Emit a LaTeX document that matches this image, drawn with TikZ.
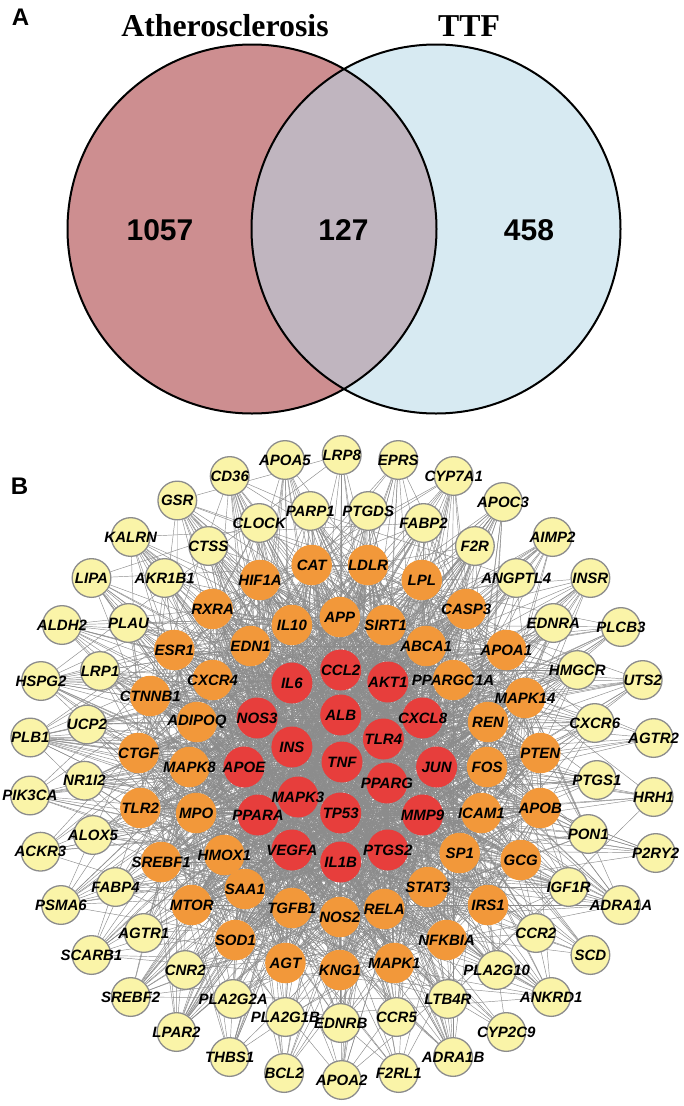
\documentclass[tikz,border=0pt]{standalone}
\usepackage{fontspec}
\newfontfamily\arl{Liberation Sans}
\newfontfamily\tms{Liberation Serif}
\usetikzlibrary{backgrounds}
\definecolor{vleft}{RGB}{205,142,144}
\definecolor{vright}{RGB}{215,234,242}
\definecolor{vmid}{RGB}{192,181,191}
\definecolor{nyel}{RGB}{250,244,168}
\definecolor{nyelb}{RGB}{140,140,140}
\definecolor{nora}{RGB}{242,152,58}
\definecolor{nred}{RGB}{231,62,60}
\definecolor{edgec}{RGB}{140,140,140}
\begin{document}
\def\redlist{340.7/715/ALB, 340.7/670/CCL2, 291.9/683/IL6, 387.8/682/AKT1, 257.1/718/NOS3, 422.6/718/CXCL8, 291.9/747/INS, 383.4/739/TLR4, 244/767/APOE, 342/762/TNF, 436.6/767/JUN, 386.9/783/PPARG, 298/797/MAPK3, 258/815/PPARA, 340.7/813/TP53, 422.6/815/MMP9, 291.9/850/VEGFA, 387.8/850/PTGS2, 340.7/862/IL1B}
\def\oralist{311.7/565/CAT, 368/565/LDLR, 260.1/580/HIF1A, 421.8/580/LPL, 212.6/609/RXRA, 466.2/609/CASP3, 291.9/625/IL10, 339.8/617/APP, 385.6/625/SIRT1, 174.3/650/ESR1, 250.5/646/EDN1, 426.1/646/ABCA1, 506.3/650/APOA1, 212.6/680/CXCR4, 453.1/680/PPARGC1A, 150.3/696/CTNNB1, 525/698/MAPK14, 196.9/722/ADIPOQ, 488/722/REN, 138.6/753/CTGF, 540.3/753/PTEN, 189.5/767/MAPK8, 487.1/767/FOS, 140.3/808/TLR2, 196.1/813/MPO, 481.4/813/ICAM1, 540.3/808/APOB, 161.2/862/SREBF1, 224.4/855/HMOX1, 459.7/853/SP1, 520.7/860/GCG, 244.9/889/SAA1, 427.9/887/STAT3, 191.7/905/MTOR, 488/905/IRS1, 291.9/908/TGFB1, 339.8/917/NOS2, 384.3/909/RELA, 235.3/940/SOD1, 446.6/940/NFKBIA, 285.4/963/AGT, 339.8/970/KNG1, 394.3/963/MAPK1}
\def\yellist{229.7/476/CD36, 285/460/APOA5, 341.7/455/LRP8, 398.3/460/EPRS, 453.7/476/CYP7A1, 177.3/500.5/GSR, 503/502/APOC3, 259.2/523/CLOCK, 310.2/511/PARP1, 368.2/511/PTGDS, 423.5/523/FABP2, 130.7/537/KALRN, 552.5/537/AIMP2, 208.3/546/CTSS, 474.9/546/F2R, 91.5/578/LIPA, 164.7/578/AKR1B1, 516.3/578/ANGPTL4, 590.4/578/INSR, 62/625/ALDH2, 128.5/623/PLAU, 553.3/623/EDNRA, 620.9/627/PLCB3, 41/681/HSPG2, 100/671/LRP1, 577.3/670/HMGCR, 642.7/680/UTS2, 87/724.5/UCP2, 594.7/723/CXCR6, 30.3/737.5/PLB1, 653.6/738/AGTR2, 84.5/780.7/NR1I2, 596.9/780/PTGS1, 30/795.5/PIK3CA, 653.6/797/HRH1, 93/835/ALOX5, 588.2/834/PON1, 40.5/851.7/ACKR3, 655.7/853/P2RY2, 115.5/887/FABP4, 568.6/887/IGF1R, 61/905/PSMA6, 620.9/905/ADRA1A, 143.8/933/AGTR1, 535.9/933/CCR2, 91.5/955/SCARB1, 590.4/955/SCD, 185.2/970/CNR2, 496.7/970/PLA2G10, 130.7/997/SREBF2, 551.2/997/ANKRD1, 233.1/999/PLA2G2A, 447.9/999/LTB4R, 285.4/1017/PLA2G1B, 340.7/1023/EDNRB, 396.5/1017/CCR5, 176.5/1032/LPAR2, 506.3/1032/CYP2C9, 229.6/1057/THBS1, 453.1/1057/ADRA1B, 284.1/1073/BCL2, 341.7/1080/APOA2, 398.7/1073/F2RL1}
\begin{tikzpicture}[x=1pt,y=-1pt,
  yelnode/.style={circle,fill=nyel,draw=nyelb,line width=1.3pt,minimum size=38.7pt,inner sep=0pt},
  oranode/.style={circle,fill=nora,minimum size=40.5pt,inner sep=0pt},
  rednode/.style={circle,fill=nred,minimum size=41pt,inner sep=0pt},
  lab/.style={font=\arl\bfseries\itshape\fontsize{15}{16}\selectfont,inner sep=0pt,text=black},
  lnk/.style={draw=edgec,line width=0.45pt},
  panel/.style={font=\arl\bfseries\fontsize{24}{26}\selectfont,inner sep=0pt},
  vtitle/.style={font=\tms\bfseries\fontsize{31.8}{34}\selectfont,inner sep=0pt,anchor=base},
  vnum/.style={font=\arl\bfseries\fontsize{30}{32}\selectfont,inner sep=0pt}]
\useasboundingbox (0,0) rectangle (683,1106);
% Panel A
\node[panel] (pa) at (20.5,17) {A};
\node[vtitle] (t1) at (225,36.7) {Atherosclerosis};
\node[vtitle] (t2) at (469,36.7) {TTF};
\fill[vleft] (252,229) circle[radius=184.5pt];
\fill[vright] (436,229) circle[radius=184.5pt];
\begin{scope}
\clip (252,229) circle[radius=184.5pt];
\fill[vmid] (436,229) circle[radius=184.5pt];
\end{scope}
\draw[line width=2pt] (252,229) circle[radius=184.5pt] (436,229) circle[radius=184.5pt];
\node[vnum] (n1) at (160,230.5) {1057};
\node[vnum] (n2) at (343.5,230.5) {127};
\node[vnum] (n3) at (529,230.5) {458};
% Panel B
\node[panel] (pb) at (19.6,486) {B};
\foreach \x/\y/\t [count=\i] in \yellist {\node[yelnode] (w\i) at (\x,\y) {};}
\foreach \x/\y/\t [count=\i] in \oralist {\node[oranode] (o\i) at (\x,\y) {};}
\foreach \x/\y/\t [count=\i] in \redlist {\node[rednode] (r\i) at (\x,\y) {};}
\foreach \x/\y/\t [count=\i] in \yellist {\node[lab] at (w\i) {\t};}
\foreach \x/\y/\t [count=\i] in \oralist {\node[lab] at (o\i) {\t};}
\foreach \x/\y/\t [count=\i] in \redlist {\node[lab] at (r\i) {\t};}
\begin{scope}[on background layer]
\fill[white] (0,0) rectangle (683,1106);
\pgfmathsetseed{12}
\foreach \i in {1,...,19}{
  \foreach \j in {1,...,19}{\ifnum\j>\i \draw[lnk] (r\i) -- (r\j);\fi}
  \foreach \j in {1,...,43}{\pgfmathtruncatemacro\ok{rnd<0.9}\ifnum\ok=1 \draw[lnk] (r\i) -- (o\j);\fi}
  \foreach \j in {1,...,63}{\pgfmathtruncatemacro\ok{rnd<0.4}\ifnum\ok=1 \draw[lnk] (r\i) -- (w\j);\fi}
}
\foreach \i in {1,...,43}{
  \foreach \j in {1,...,43}{\ifnum\j>\i \pgfmathtruncatemacro\ok{rnd<0.5}\ifnum\ok=1 \draw[lnk] (o\i) -- (o\j);\fi\fi}
  \foreach \j in {1,...,63}{\pgfmathtruncatemacro\ok{rnd<0.15}\ifnum\ok=1 \draw[lnk] (o\i) -- (w\j);\fi}
}
\foreach \i in {1,...,63}{
  \foreach \j in {1,...,63}{\ifnum\j>\i \pgfmathtruncatemacro\ok{rnd<0.012}\ifnum\ok=1 \draw[lnk] (w\i) -- (w\j);\fi\fi}
}
\end{scope}
\end{tikzpicture}
\end{document}
